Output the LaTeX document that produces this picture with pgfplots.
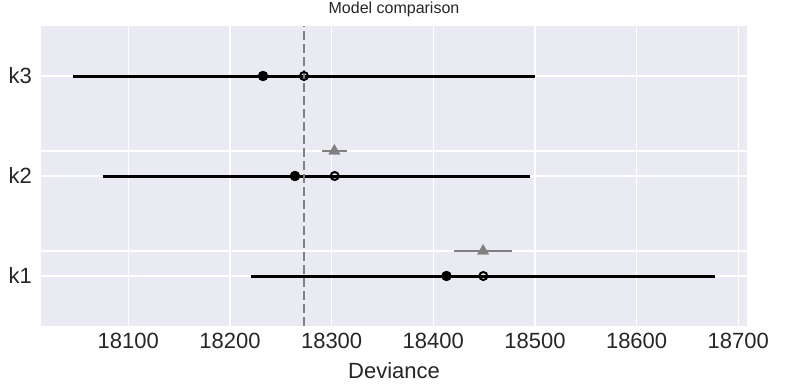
\documentclass[border=0pt]{standalone}
\usepackage{fontspec}
\setmainfont{Liberation Sans}
\usepackage{pgfplots}
\pgfplotsset{compat=1.18}
\definecolor{bgc}{HTML}{EAEAF2}
\definecolor{gr}{HTML}{808080}
\begin{document}
\begin{tikzpicture}
\path (-41pt,-58pt) rectangle (763pt,326pt);
\begin{axis}[
  scale only axis,
  width=706pt, height=300pt,
  xmin=18014.1, xmax=18708.6,
  ymin=-0.5, ymax=2.5,
  scaled x ticks=false,
  axis background/.style={fill=bgc},
  axis line style={draw=none},
  major tick length=0pt,
  grid=major,
  major grid style={white, line width=1.2pt},
  xtick={18100,18200,18300,18400,18500,18600,18700},
  xticklabels={18100,18200,18300,18400,18500,18600,18700},
  ytick={0,0.25,1,1.25,2},
  yticklabels={k1,,k2,,k3},
  tick label style={font=\fontsize{22}{26}\selectfont, text=black!85},
  xticklabel style={anchor=base, yshift=-22.5pt, inner sep=0pt},
  yticklabel style={anchor=east, inner sep=0pt, xshift=-9pt},
  xlabel={Deviance},
  xlabel style={font=\fontsize{22}{26}\selectfont, text=black!85, at={(axis description cs:0.5,0)}, anchor=base, yshift=-52pt, inner sep=0pt},
  title={Model comparison},
  title style={font=\fontsize{16}{19}\selectfont, text=black!85, at={(axis description cs:0.5,1)}, anchor=base, yshift=7pt, inner sep=0pt},
  clip=false,
]
% black intervals
\addplot[black, line width=3pt] coordinates {(18045.6,2) (18500,2)};
\addplot[black, line width=3pt] coordinates {(18075.1,1) (18495,1)};
\addplot[black, line width=3pt] coordinates {(18221,0) (18677,0)};
% grey dse bars
\addplot[gr, line width=2.5pt] coordinates {(18290.5,1.25) (18314.8,1.25)};
\addplot[gr, line width=2.5pt] coordinates {(18420.6,0.25) (18477.4,0.25)};
\addplot[only marks, mark=triangle*, mark size=6.5pt, gr, mark options={fill=gr, draw=gr}] coordinates {(18302.7,1.25) (18449.0,0.25)};
% filled dots (in-sample)
\addplot[only marks, mark=*, mark size=5pt, black] coordinates {(18232.5,2) (18263.9,1) (18413,0)};
% open circles
\addplot[only marks, mark=o, mark size=4pt, black, mark options={line width=2pt}] coordinates {(18272.8,2) (18303,1) (18449.2,0)};
% dashed reference line
\addplot[gr, line width=2.5pt, dash pattern=on 9pt off 4pt] coordinates {(18272.8,-0.5) (18272.8,2.5)};
\end{axis}
\end{tikzpicture}
\end{document}
